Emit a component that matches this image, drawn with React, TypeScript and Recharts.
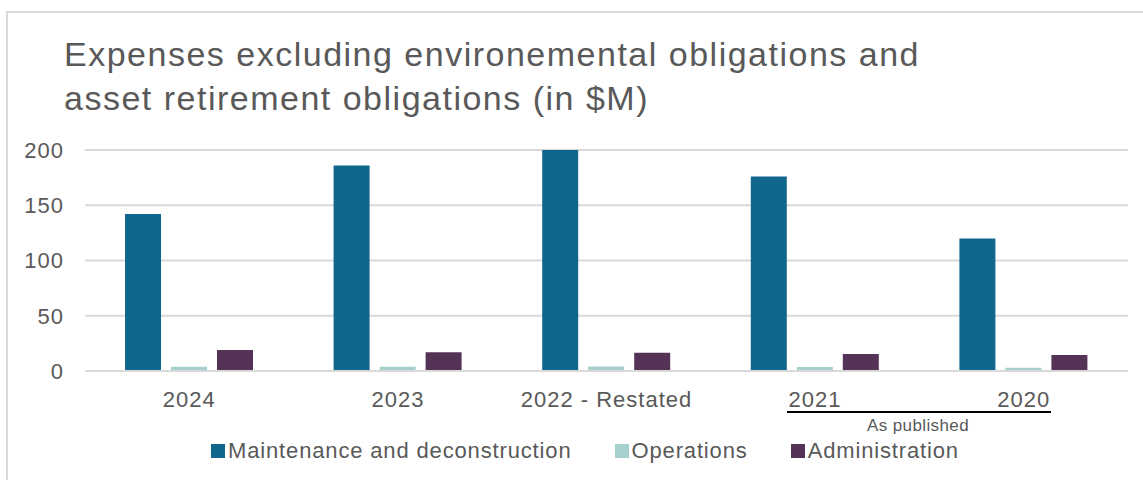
import React from 'react';
import { BarChart, Bar, XAxis, YAxis, CartesianGrid } from 'recharts';

const years = ['2024', '2023', '2022 - Restated', '2021', '2020'];
const maintenance = [142, 186, 200, 176, 120];
const operations = [3.8, 3.8, 4, 3.7, 3];
const administration = [19, 17, 16.6, 15.4, 14.5];
const yTicks = [0, 50, 100, 150, 200];

const seriesNames = ['Maintenance and deconstruction', 'Operations', 'Administration'];
const seriesKeys = ['maintenance', 'operations', 'administration'];
const seriesColors = ['#10668b', '#a5d0cd', '#543357'];

const data = years.map((year, i) => ({
  year,
  maintenance: maintenance[i],
  operations: operations[i],
  administration: administration[i],
}));

const FONT = '"Liberation Sans", Arial, sans-serif';
const GREY = '#595959';
const tickStyle = { fill: GREY, fontSize: 22, fontFamily: FONT, letterSpacing: 1 };

const App: React.FC = () => {
  return (
    <div
      style={{
        position: 'fixed',
        left: 0,
        top: 0,
        width: 1143,
        height: 480,
        background: '#fff',
        overflow: 'hidden',
        fontFamily: FONT,
      }}
    >
      {/* chart frame */}
      <div
        style={{
          position: 'absolute',
          left: 6,
          top: 11,
          width: 1200,
          height: 500,
          borderLeft: '2px solid #d9d9d9',
          borderTop: '2px solid #d9d9d9',
        }}
      />

      <div
        style={{
          position: 'absolute',
          left: 64,
          top: 32,
          fontSize: 34,
          lineHeight: '44px',
          letterSpacing: 1.5,
          color: GREY,
          whiteSpace: 'nowrap',
        }}
      >
        Expenses excluding environemental obligations and
        <br />
        asset retirement obligations (in $M)
      </div>

      <div style={{ position: 'absolute', left: 0, top: 0 }}>
        <BarChart
          width={1143}
          height={480}
          data={data}
          margin={{ top: 150, right: 15, bottom: 69, left: 0 }}
          barSize={36}
          barGap={10}
        >
          <CartesianGrid vertical={false} stroke="#d9d9d9" strokeWidth={2} />
          <XAxis
            dataKey="year"
            height={40}
            tickLine={false}
            axisLine={{ stroke: '#d9d9d9', strokeWidth: 2 }}
            tickMargin={14}
            tick={tickStyle}
            interval={0}
          />
          <YAxis
            width={85}
            domain={[0, 200]}
            ticks={yTicks}
            tickLine={false}
            axisLine={false}
            tickMargin={15}
            tick={tickStyle}
          />
          {seriesKeys.map((key, i) => (
            <Bar key={key} dataKey={key} name={seriesNames[i]} fill={seriesColors[i]} isAnimationActive={false} />
          ))}
        </BarChart>
      </div>

      {/* "As published" grouping */}
      <div style={{ position: 'absolute', left: 787, top: 411, width: 264, height: 2, background: '#000' }} />
      <div
        style={{
          position: 'absolute',
          left: 818,
          width: 200,
          top: 416,
          textAlign: 'center',
          fontSize: 17,
          lineHeight: '20px',
          letterSpacing: 0.4,
          color: GREY,
        }}
      >
        As published
      </div>

      {/* legend */}
      <div
        style={{
          position: 'absolute',
          left: 211,
          top: 438,
          display: 'flex',
          alignItems: 'center',
          fontSize: 22,
          lineHeight: '26px',
          letterSpacing: 0.85,
          color: GREY,
          whiteSpace: 'nowrap',
        }}
      >
        {seriesNames.map((name, i) => (
          <div key={name} style={{ display: 'flex', alignItems: 'center', marginRight: 43 }}>
            <span style={{ width: 14, height: 14, background: seriesColors[i], marginRight: 3 }} />
            <span>{name}</span>
          </div>
        ))}
      </div>
    </div>
  );
};

export default App;
